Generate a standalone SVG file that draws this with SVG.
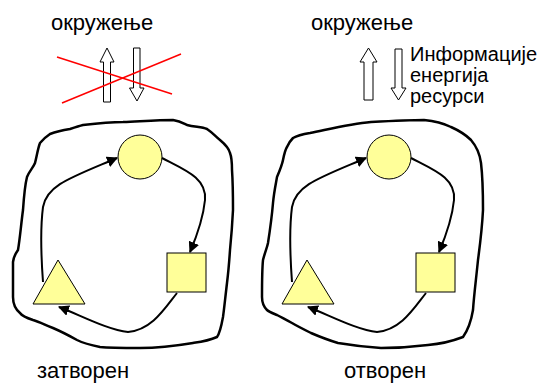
<svg xmlns="http://www.w3.org/2000/svg" width="542" height="385" viewBox="0 0 542 385">
<style>
text{font-family:"Liberation Sans",Arial,sans-serif;fill:#000}
.big{font-size:22px}
.small{font-size:20px}
.blob{fill:none;stroke:#000;stroke-width:2.5;stroke-linejoin:round}
.shape{fill:#ffff99;stroke:#000;stroke-width:1}
.conn{fill:none;stroke:#000;stroke-width:2}
.barrow{fill:#fff;stroke:#000;stroke-width:1}
.cross{stroke:#ff0000;stroke-width:1.5}
</style>
<defs>
<marker id="ah" viewBox="0 0 10 10" refX="9" refY="5" markerWidth="5.5" markerHeight="5.5" orient="auto" markerUnits="strokeWidth">
<path d="M0,0 L10,5 L0,10 z" fill="#000"/>
</marker>
</defs>

<g id="left-env">
<text class="big" x="51" y="30">окружење</text>
</g>
<g id="left-flow-up"><path class="barrow" d="M103.5,102 V62 H100 L107,48 L114,62 H110.5 V102 Z"/></g>
<g id="left-flow-down"><path class="barrow" d="M133.5,48 H140 V88 H144 L137,101 L129.5,88 H133.5 Z"/></g>
<g id="left-cross">
<line class="cross" x1="57" y1="57" x2="172" y2="94"/>
<line class="cross" x1="62" y1="103" x2="181" y2="54"/>
</g>
<g id="left-system">
<path class="blob" d="M83,125 C100,123 115,122 123,122 C145,121 160,120 173,120 C180,121 183,123 187,125 C195,127 202,127 207,129 C213,133 216,137 220,140 C226,145 229,149 230,153 C232,158 232,165 232,170 C233,185 233,200 233,210 C232,230 231,240 230,250 C229,265 228,275 227,283 C225,300 224,310 223,317 C221,328 220,333 217,337 C208,341 200,342 193,343 C175,346 158,348 140,348 C125,348 110,348 100,347 C90,345 83,343 77,340 C68,335 60,331 53,328 C45,325 40,322 33,320 C27,318 22,316 20,313 C14,308 13,303 13,297 C13,285 13,272 13,262 C14,255 16,253 18,250 C20,238 21,225 23,210 C24,195 25,185 27,177 C30,170 33,168 35,163 C37,155 38,148 40,143 C44,138 47,136 50,134 C58,131 64,130 70,129 C76,127 79,126 83,125 Z"/>
</g>
<g id="left-circle"><circle class="shape" cx="140" cy="157" r="22"/></g>
<g id="left-square"><rect class="shape" x="167" y="253" width="39" height="39"/></g>
<g id="left-triangle"><path class="shape" d="M58,260 L85,304 L33,304 Z"/></g>
<g id="left-connectors">
<path class="conn" marker-end="url(#ah)" d="M162,158 C185,170 207,178 205,200 C203,220 196,238 190,252"/>
<path class="conn" marker-end="url(#ah)" d="M177,293 C165,308 152,330 128,332 C108,330 80,315 59,307"/>
<path class="conn" marker-end="url(#ah)" d="M43,282 C41,255 40,230 43,207 C47,185 70,178 117,158"/>
</g>
<g id="left-label"><text class="big" x="37" y="378">затворен</text></g>

<g id="right-env">
<text class="big" x="311" y="30">окружење</text>
</g>
<g id="right-flow-up"><path class="barrow" d="M364,100 V62 H360 L368.5,48 L377,62 H373 V100 Z"/></g>
<g id="right-flow-down"><path class="barrow" d="M395,49 H402 V88 H406 L398.5,100 L391,88 H395 Z"/></g>
<g id="right-flow-label">
<text class="small" x="410" y="61">Информације</text>
<text class="small" x="410" y="82">енергија</text>
<text class="small" x="410" y="103">ресурси</text>
</g>
<g id="right-system">
<path class="blob" d="M310,133 C330,129 350,124 371,122 C390,121 410,120 424,120 C435,121 445,124 451,127 C460,131 466,135 471,140 C477,147 480,155 481,163 C483,180 483,195 483,210 C482,230 480,245 478,260 C476,280 474,295 473,310 C471,322 468,330 463,337 C450,342 440,344 428,345 C412,347 395,348 381,348 C365,347 350,345 338,343 C328,340 318,336 311,333 C303,329 297,326 292,323 C286,320 281,317 277,315 C272,313 269,312 267,310 C263,306 262,302 262,297 C262,285 262,270 263,260 C265,252 267,248 268,243 C270,230 272,215 273,203 C274,192 276,183 277,177 C280,170 282,165 283,160 C284,155 285,150 287,147 C289,142 291,140 293,138 C298,135 304,134 310,133 Z"/>
</g>
<g id="right-circle"><circle class="shape" cx="389" cy="157" r="22"/></g>
<g id="right-square"><rect class="shape" x="416" y="253" width="39" height="39"/></g>
<g id="right-triangle"><path class="shape" d="M307,260 L334,304 L282,304 Z"/></g>
<g id="right-connectors">
<path class="conn" marker-end="url(#ah)" d="M411,158 C434,170 456,178 454,200 C452,220 445,238 439,252"/>
<path class="conn" marker-end="url(#ah)" d="M426,293 C414,308 401,330 377,332 C357,330 329,315 308,307"/>
<path class="conn" marker-end="url(#ah)" d="M292,282 C290,255 289,230 292,207 C296,185 319,178 366,158"/>
</g>
<g id="right-label"><text class="big" x="344" y="378">отворен</text></g>
</svg>
